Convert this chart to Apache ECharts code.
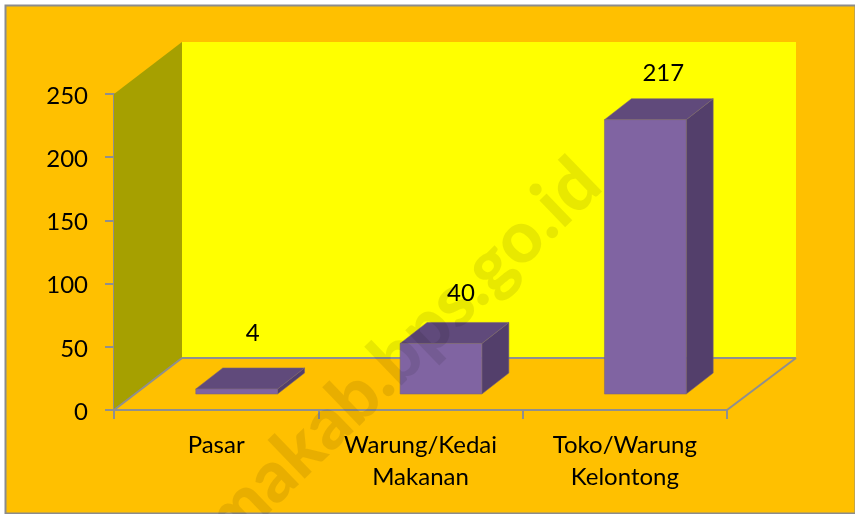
<!DOCTYPE html>
<html><head><meta charset="utf-8">
<style>html,body{margin:0;padding:0;background:#fff}#c{width:855px;height:514px}</style>
<script src="https://cdn.jsdelivr.net/npm/echarts@6/dist/echarts.min.js"></script>
</head><body><div id="c"></div>
<script>
const categories = ['Pasar', 'Warung/Kedai\nMakanan', 'Toko/Warung\nKelontong'];
const values = [4, 40, 217];
const yTicks = [0, 50, 100, 150, 200, 250];
const watermark = 'umakab.bps.go.id';

const DEPTH_X = 68, DEPTH_Y = 52, BACK_EXTRA = 1;
const BAR_RATIO = 0.4, BAR_SHIFT_X = 20.5, BAR_SHIFT_Y = 16, BAR_DX = 27, BAR_DY = 21;
const LABEL_DX = [16, 20, 18], LABEL_LIFT = [56, 50, 46];
const FONT = 'Lato';
const FONT_SIZE = 24;
const GREY = '#8f8f8f';

const chart = echarts.init(document.getElementById('c'), null, {renderer: 'canvas'});

function renderWalls(params, api) {
  const band = api.size([1, 0])[0];
  const c0 = api.coord([0, 0]);
  const l = c0[0] - band / 2, b = c0[1];
  const r = l + band * categories.length;
  const t = api.coord([0, yTicks[yTicks.length - 1]])[1];
  const rb = r + DEPTH_X + BACK_EXTRA;
  const poly = (pts, fill) => ({type: 'polygon', shape: {points: pts}, style: {fill: fill}});
  const line = (x1, y1, x2, y2) => ({type: 'line', shape: {x1, y1, x2, y2}, style: {stroke: GREY, lineWidth: 2}});
  return {type: 'group', children: [
    poly([[l + DEPTH_X, t - DEPTH_Y], [rb, t - DEPTH_Y], [rb, b - DEPTH_Y], [l + DEPTH_X, b - DEPTH_Y]], '#ffff00'),
    poly([[l, t], [l + DEPTH_X, t - DEPTH_Y], [l + DEPTH_X, b - DEPTH_Y], [l, b]], '#a6a000'),
    line(l + DEPTH_X, b - DEPTH_Y, rb, b - DEPTH_Y),
    line(l, b, l + DEPTH_X, b - DEPTH_Y),
    line(r, b, rb, b - DEPTH_Y)
  ]};
}

function renderBar(params, api) {
  const i = api.value(0), v = api.value(1);
  const band = api.size([1, 0])[0];
  const w = band * BAR_RATIO;
  const base = api.coord([i, 0]), top = api.coord([i, v]);
  const x0 = base[0] + BAR_SHIFT_X - w / 2, x1 = x0 + w;
  const yb = base[1] - BAR_SHIFT_Y, yt = top[1] - BAR_SHIFT_Y;
  const edge = {stroke: 'rgba(120,100,120,0.55)', lineWidth: 1};
  const poly = (pts, fill) => ({type: 'polygon', shape: {points: pts}, style: Object.assign({fill: fill}, edge)});
  return {type: 'group', children: [
    poly([[x1, yb], [x1 + BAR_DX, yb - BAR_DY], [x1 + BAR_DX, yt - BAR_DY], [x1, yt]], '#533f6b'),
    poly([[x0, yt], [x0 + BAR_DX, yt - BAR_DY], [x1 + BAR_DX, yt - BAR_DY], [x1, yt]], '#604a7b'),
    poly([[x0, yb], [x1, yb], [x1, yt], [x0, yt]], '#8064a2'),
    {type: 'text', style: {
      x: base[0] + BAR_SHIFT_X + LABEL_DX[params.dataIndex],
      y: yt - LABEL_LIFT[params.dataIndex],
      text: String(v), fill: '#000', font: FONT_SIZE + 'px ' + FONT, align: 'center', verticalAlign: 'middle'
    }}
  ]};
}

chart.setOption({
  animation: false,
  backgroundColor: '#ffffff',
  grid: {left: 114, right: 128, top: 94, bottom: 104},
  xAxis: {
    type: 'category', data: categories,
    axisLine: {lineStyle: {color: GREY, width: 2}},
    axisTick: {show: true, length: 9, alignWithLabel: false, lineStyle: {color: GREY, width: 2}},
    axisLabel: {color: '#000', fontFamily: FONT, fontSize: FONT_SIZE, lineHeight: 32, margin: 19, interval: 0}
  },
  yAxis: {
    type: 'value', min: 0, max: 250, interval: 50,
    splitLine: {show: false},
    axisLine: {show: true, lineStyle: {color: GREY, width: 2}},
    axisTick: {show: true, length: 9, lineStyle: {color: GREY, width: 2}},
    axisLabel: {color: '#000', fontFamily: FONT, fontSize: FONT_SIZE, margin: 26, verticalAlign: 'top', lineHeight: 4}
  },
  graphic: [
    {type: 'rect', z: -10, shape: {x: 5.5, y: 5.5, width: 850, height: 508}, style: {fill: '#ffc000', stroke: '#8c8c8c', lineWidth: 2}},
    {type: 'text', z: 100, x: 564, y: 146, rotation: 44 * Math.PI / 180,
      style: {text: watermark, fill: 'rgba(0,0,0,0.09)', font: '900 72px Lato', align: 'right', verticalAlign: 'top'}}
  ],
  series: [
    {type: 'custom', z: 1, renderItem: renderWalls, data: [[0]], silent: true, encode: {x: 0}},
    {type: 'custom', z: 3, renderItem: renderBar, data: values.map((v, i) => [i, v]), encode: {x: 0, y: 1}}
  ]
});
</script></body></html>
